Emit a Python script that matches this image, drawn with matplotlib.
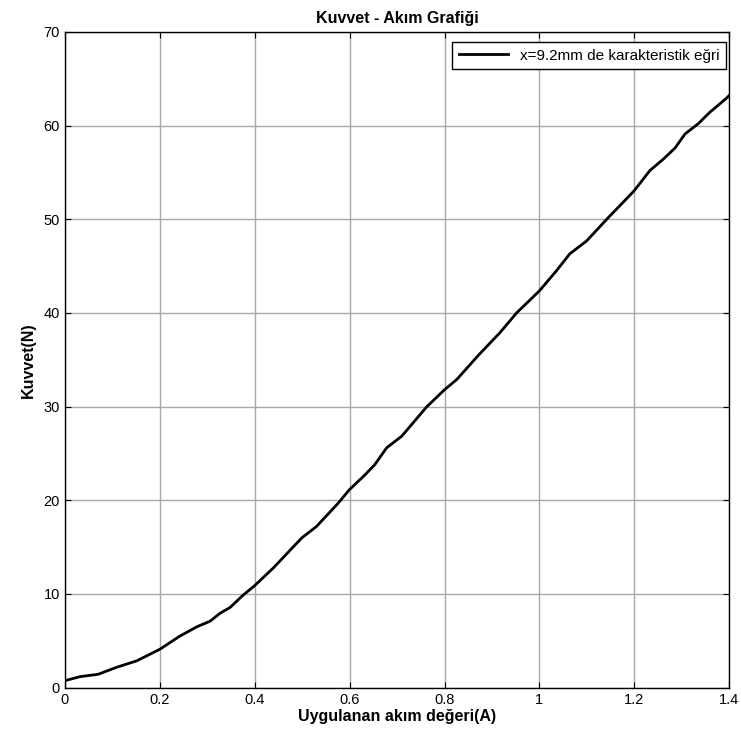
import matplotlib
matplotlib.use("Agg")
import matplotlib.pyplot as plt

plt.rcParams['font.family'] = ['Liberation Sans', 'DejaVu Sans']

current = [0.0, 0.032, 0.07, 0.109, 0.151, 0.2, 0.242, 0.278, 0.306, 0.327, 0.348,
           0.376, 0.4, 0.439, 0.499, 0.530, 0.576, 0.599, 0.632, 0.653, 0.678, 0.710,
           0.762, 0.8, 0.826, 0.87, 0.917, 0.952, 1.0, 1.036, 1.064, 1.1, 1.142,
           1.184, 1.2, 1.233, 1.261, 1.286, 1.307, 1.335, 1.359, 1.394, 1.4]
force = [0.75, 1.18, 1.43, 2.18, 2.86, 4.1, 5.5, 6.5, 7.1, 7.95, 8.56,
         9.9, 10.9, 12.77, 15.98, 17.2, 19.7, 21.1, 22.7, 23.8, 25.6, 26.85,
         29.95, 31.8, 32.9, 35.4, 37.9, 40.0, 42.35, 44.5, 46.3, 47.7, 50.0,
         52.2, 53.05, 55.2, 56.4, 57.6, 59.1, 60.2, 61.4, 62.9, 63.2]

xticks = [0, 0.2, 0.4, 0.6, 0.8, 1, 1.2, 1.4]
xticklabels = ['0', '0.2', '0.4', '0.6', '0.8', '1', '1.2', '1.4']
yticks = [0, 10, 20, 30, 40, 50, 60, 70]

fig = plt.figure(figsize=(7.41, 7.40), dpi=100)
ax = fig.add_axes([0.0877, 0.0707, 0.8963, 0.8863])
ax.plot(current, force, color='black', linewidth=2.0, label='x=9.2mm de karakteristik eğri')
ax.set_xlim(0, 1.4)
ax.set_ylim(0, 70)
ax.set_xticks(xticks)
ax.set_xticklabels(xticklabels)
ax.set_yticks(yticks)
ax.grid(True, color='#a8a8a8', linewidth=1.0, linestyle='-')
ax.tick_params(direction='in', top=True, right=True, length=4, labelsize=10.5, width=0.8)
for s in ax.spines.values():
    s.set_linewidth(1.0)
ax.set_title('Kuvvet - Akım Grafiği', fontsize=11.5, fontweight='bold', pad=6)
ax.set_xlabel('Uygulanan akım değeri(A)', fontsize=11.5, fontweight='bold', labelpad=2)
ax.set_ylabel('Kuvvet(N)', fontsize=11.5, fontweight='bold', labelpad=6)
leg = ax.legend(loc='upper right', bbox_to_anchor=(0.9955, 0.985), fontsize=11,
                fancybox=False, framealpha=1, edgecolor='black', borderaxespad=0,
                handlelength=3.2, borderpad=0.45)
leg.get_frame().set_linewidth(1.0)
fig.savefig('out.png', dpi=100)
